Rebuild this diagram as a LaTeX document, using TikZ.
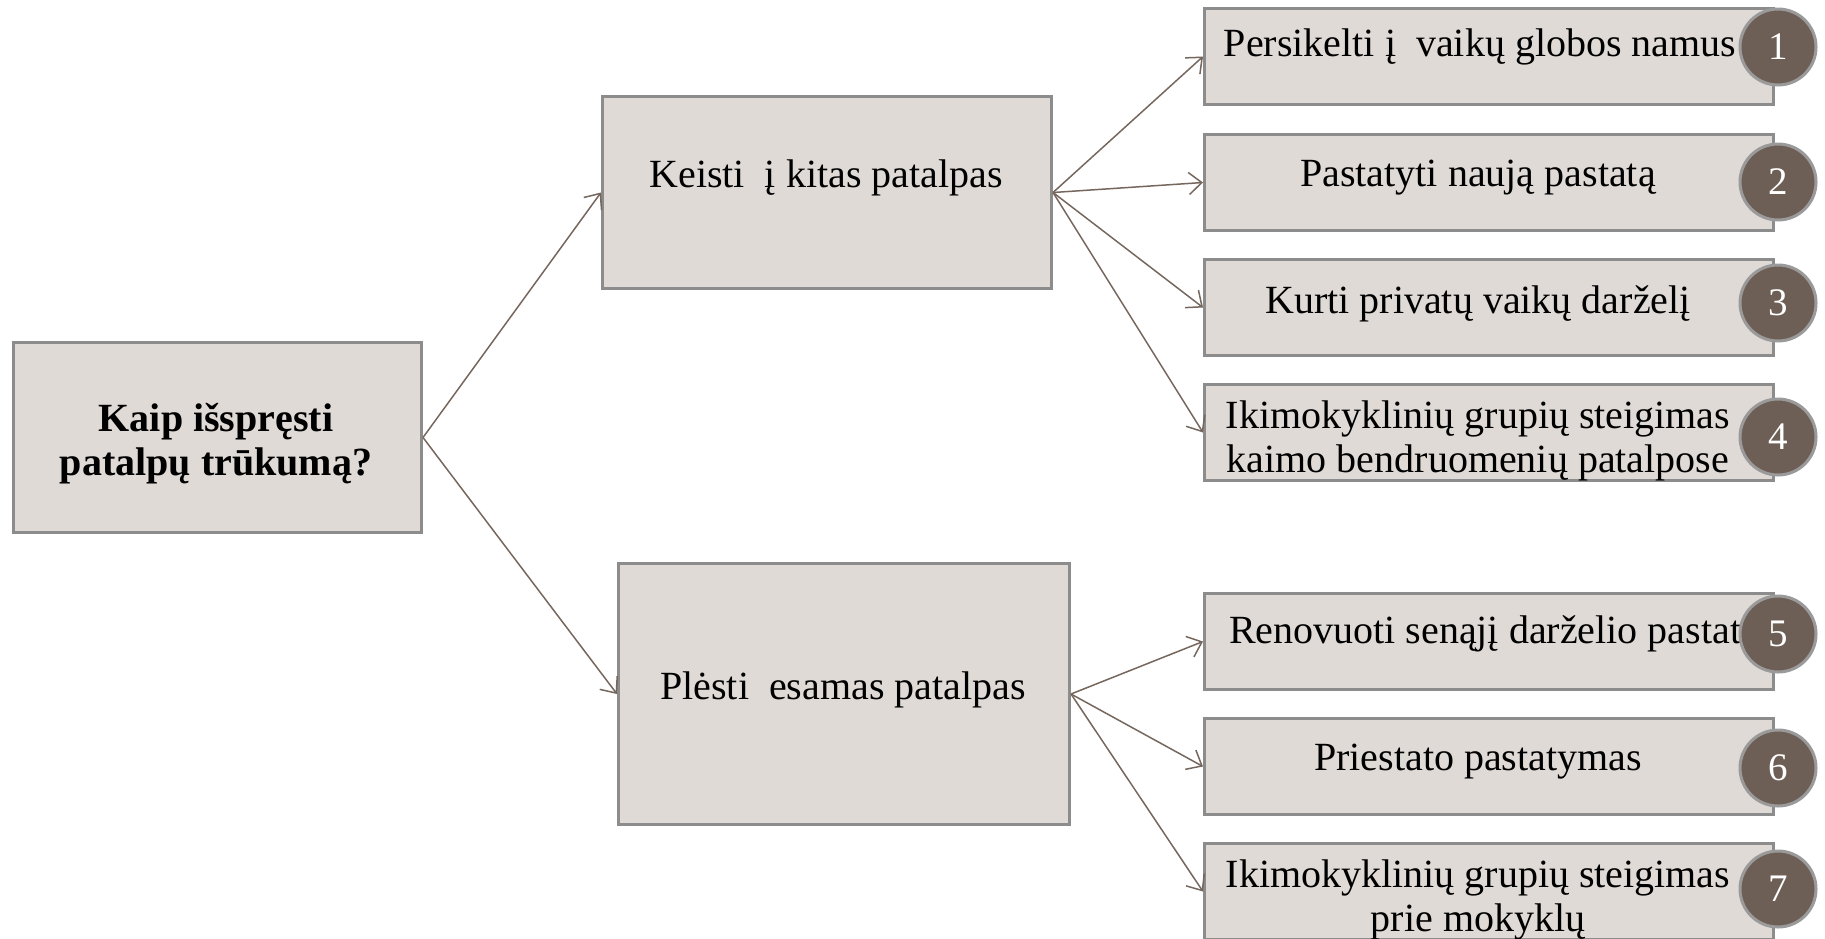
\documentclass[tikz,border=0pt]{standalone}
\usepackage{fontspec}
\setmainfont{Liberation Serif}
\usetikzlibrary{arrows.meta}
\definecolor{boxfill}{HTML}{DFDAD6}
\definecolor{boxline}{HTML}{8C8C8C}
\definecolor{circfill}{HTML}{6E5F56}
\definecolor{circline}{HTML}{9A9A9A}
\definecolor{arrcol}{HTML}{76675E}
\begin{document}
\begin{tikzpicture}[x=1pt,y=-1pt,
  box/.style={draw=boxline,line width=3pt,fill=boxfill,rectangle,inner sep=0pt,anchor=north west},
  rbox/.style={box,minimum width=569pt,minimum height=96pt},
  txt/.style={anchor=base,inner sep=0pt,font=\fontsize{40}{44}\selectfont},
  btxt/.style={txt,font=\fontsize{40}{44}\selectfont\bfseries},
  num/.style={circle,draw=circline,line width=3pt,fill=circfill,minimum size=76pt,inner sep=0pt,text=white,font=\fontsize{39}{44}\selectfont},
  arr/.style={draw=arrcol,line width=1.5pt,-{Straight Barb[length=13pt,width=22pt]}}]
\useasboundingbox (0,0) rectangle (1825,938);

% boxes
\node[box,minimum width=408pt,minimum height=190pt] (root) at (12,341) {};
\node[box,minimum width=449pt,minimum height=192pt] (keisti) at (601,95) {};
\node[box,minimum width=451pt,minimum height=261pt] (plesti) at (617,562) {};
\node[rbox] (b1) at (1203,7) {};
\node[rbox] (b2) at (1203,133) {};
\node[rbox] (b3) at (1203,258) {};
\node[rbox] (b4) at (1203,383) {};
\node[rbox] (b5) at (1203,592) {};
\node[rbox] (b6) at (1203,717) {};
\node[rbox] (b7) at (1203,842) {};

% texts
\node[btxt] (rt1) at (216,431) {Kaip išspręsti};
\node[btxt] (rt2) at (216,475) {patalpų trūkumą?};
\node[txt] (kt) at (826,187) {Keisti\ \ į kitas patalpas};
\node[txt] (pt) at (843,699) {Plėsti\ \ esamas patalpas};
\node[txt] (t1) at (1480,56) {Persikelti į\ \ vaikų globos namus};
\node[txt] (t2) at (1478,186) {Pastatyti naują pastatą};
\node[txt] (t3) at (1478,313) {Kurti privatų vaikų darželį};
\node[txt] (t4a) at (1478,428) {Ikimokyklinių grupių steigimas};
\node[txt] (t4b) at (1478,472) {kaimo bendruomenių patalpose};
\node[txt] (t5) at (1494,643) {Renovuoti senąjį darželio pastatą};
\node[txt] (t6) at (1478,770) {Priestato pastatymas};
\node[txt] (t7a) at (1478,887) {Ikimokyklinių grupių steigimas};
\node[txt] (t7b) at (1478,931) {prie mokyklų};

% connectors
\draw[arr] (root.east) -- (keisti.west);
\draw[arr] (root.east) -- (plesti.west);
\foreach \b in {b1,b2,b3,b4} \draw[arr] (keisti.east) -- (\b.west);
\foreach \b in {b5,b6,b7} \draw[arr] (plesti.east) -- (\b.west);

% number circles
\node[num] (n1) at (1778,47) {1};
\node[num] (n2) at (1778,182) {2};
\node[num] (n3) at (1778,303) {3};
\node[num] (n4) at (1778,437) {4};
\node[num] (n5) at (1778,634) {5};
\node[num] (n6) at (1778,768) {6};
\node[num] (n7) at (1778,889) {7};
\end{tikzpicture}
\end{document}
